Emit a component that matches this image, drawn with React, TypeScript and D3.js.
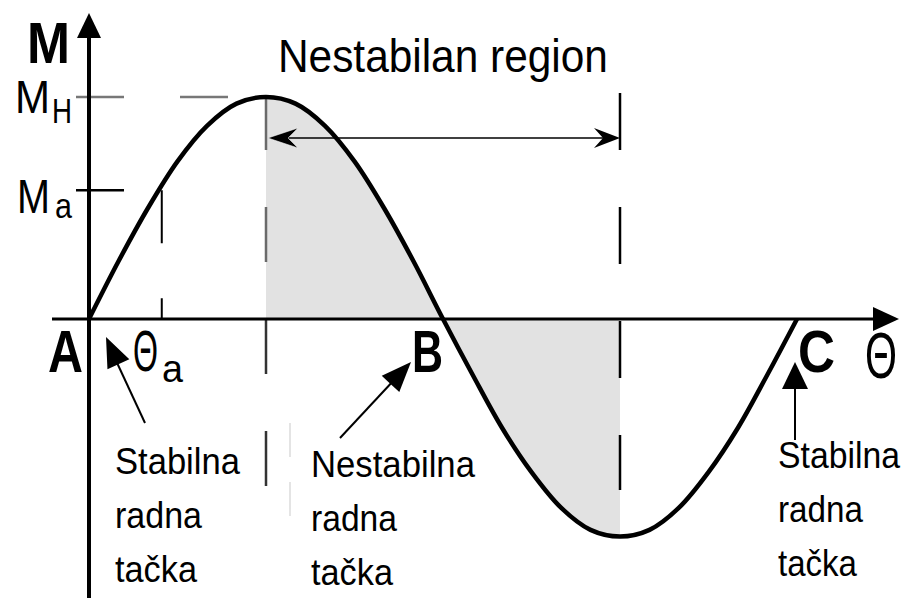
import React from 'react';
import * as d3 from 'd3';

// Curve samples (rotor angle in degrees, normalised torque)
const thetaDeg = [0, 15, 30, 45, 60, 75, 90, 105, 120, 135, 150, 165, 180, 195, 210, 225, 240, 255, 270, 285, 300, 315, 330, 345, 360];
const torque = [0, 0.26, 0.5, 0.71, 0.87, 0.97, 1, 0.97, 0.87, 0.71, 0.5, 0.26, 0, -0.25, -0.49, -0.69, -0.85, -0.95, -0.98, -0.95, -0.85, -0.69, -0.49, -0.25, 0];

const unstableRange = [90, 270];
const thetaA = 37;
const torqueA = 0.58;
const torqueH = 1;

const pointNames = ['A', 'B', 'C'];
const pointTheta = [0, 180, 360];

const stableLines = ['Stabilna', 'radna', 'tačka'];
const unstableLines = ['Nestabilna', 'radna', 'tačka'];
const regionTitle = 'Nestabilan region';

const W = 905;
const H = 598;
const FAMILY = '"Liberation Sans", Arial, sans-serif';

let ctx: CanvasRenderingContext2D | null = null;
function measure(s: string, size: number, bold: boolean) {
  if (!ctx) ctx = document.createElement('canvas').getContext('2d');
  if (!ctx) return s.length * size * 0.55;
  ctx.font = `${bold ? 'bold ' : ''}${size}px ${FAMILY}`;
  return ctx.measureText(s).width;
}

function T({ x, y, size, w, bold = false, children }: { x: number; y: number; size: number; w: number; bold?: boolean; children: string }) {
  const nat = measure(children, size, bold);
  const sx = nat > 0 ? w / nat : 1;
  return (
    <text transform={`translate(${x},${y}) scale(${sx},1)`} fontSize={size} fontFamily={FAMILY}
      fontWeight={bold ? 'bold' : 'normal'} fill="#000">{children}</text>
  );
}

function head(tx: number, ty: number, fx: number, fy: number, len: number, hw: number, notch = 0) {
  const dx = tx - fx, dy = ty - fy;
  const d = Math.hypot(dx, dy);
  const ux = dx / d, uy = dy / d;
  const nx = -uy, ny = ux;
  const bx = tx - ux * len, by = ty - uy * len;
  const mx = tx - ux * (len - notch), my = ty - uy * (len - notch);
  return `${tx},${ty} ${bx + nx * hw},${by + ny * hw} ${mx},${my} ${bx - nx * hw},${by - ny * hw}`;
}

export default function App() {
  const x = d3.scaleLinear().domain([0, 360]).range([89, 797]);
  const y = d3.scaleLinear().domain([-1, 1]).range([541, 97]);
  const pts = thetaDeg.map((t, i) => [t, torque[i]] as [number, number]);

  const line = d3.line<[number, number]>().x(d => x(d[0])).y(d => y(d[1])).curve(d3.curveCatmullRom);
  const area = d3.area<[number, number]>().x(d => x(d[0])).y0(y(0)).y1(d => y(d[1])).curve(d3.curveCatmullRom);
  const shaded = pts.filter(p => p[0] >= unstableRange[0] && p[0] <= unstableRange[1]);

  const x0 = x(0), y0 = y(0);
  const xU1 = x(unstableRange[0]), xU2 = x(unstableRange[1]);
  const arrowY = 138;

  const labelBlock = (lines: string[], lx: number, firstBase: number, widths: number[], step: number) =>
    lines.map((s, i) => (
      <T key={i} x={lx} y={firstBase + i * step} size={37} w={widths[i]}>{s}</T>
    ));

  const nameX = [x(pointTheta[0]) - 41, x(pointTheta[1]) - 31, x(pointTheta[2]) + 1];
  const nameW = [35, 31, 37];

  return (
    <svg width={W} height={H} style={{ position: 'absolute', left: 0, top: 0, background: '#fff' }}>
      <rect x={0} y={0} width={W} height={H} fill="#fff" />
      {/* shaded unstable region */}
      <path d={area(shaded) || ''} fill="#e2e2e2" />

      {/* faint artifact line */}
      <line x1={290} x2={290} y1={423} y2={522} stroke="#dcdcdc" strokeWidth={1.5} strokeDasharray="34 25" />

      {/* M_H dashed level */}
      <line x1={76} x2={240} y1={y(torqueH)} y2={y(torqueH)} stroke="#777" strokeWidth={2.5} strokeDasharray="48 56" />
      {/* vertical dashed at 90 deg */}
      <line x1={xU1} x2={xU1} y1={95} y2={y0} stroke="#6a6a6a" strokeWidth={2.5} strokeDasharray="55 57" />
      <line x1={xU1} x2={xU1} y1={y0} y2={490} stroke="#333" strokeWidth={2.5} strokeDasharray="55 57" strokeDashoffset={-112} />
      {/* vertical dashed at 270 deg */}
      <line x1={xU2} x2={xU2} y1={93} y2={490} stroke="#000" strokeWidth={2.5} strokeDasharray="57 57" />
      {/* M_a tick */}
      <line x1={76} x2={124} y1={y(torqueA)} y2={y(torqueA)} stroke="#000" strokeWidth={2.5} />
      {/* theta_a line */}
      <line x1={x(thetaA)} x2={x(thetaA)} y1={y(torqueA)} y2={y0} stroke="#000" strokeWidth={2} strokeDasharray="53 55" />

      {/* axes */}
      <line x1={52} x2={880} y1={y0} y2={y0} stroke="#000" strokeWidth={3} />
      <polygon points={head(899, y0, 52, y0, 26, 12)} fill="#000" />
      <line x1={x0} x2={x0} y1={H} y2={30} stroke="#000" strokeWidth={4} />
      <polygon points={head(x0, 13, x0, H, 25, 12)} fill="#000" />

      {/* curve */}
      <path d={line(pts) || ''} fill="none" stroke="#000" strokeWidth={4.5} strokeLinejoin="round" />

      {/* unstable region double arrow */}
      <line x1={xU1 + 10} x2={xU2 - 10} y1={arrowY} y2={arrowY} stroke="#000" strokeWidth={1.5} />
      <polygon points={head(xU1 + 2, arrowY, xU2, arrowY, 30, 10, 10)} fill="#000" stroke="#fff" strokeWidth={0.5} />
      <polygon points={head(xU2, arrowY, xU1, arrowY, 26, 10, 9)} fill="#000" />

      <T x={278} y={72} size={46} w={330}>{regionTitle}</T>

      {/* axis labels */}
      <T x={27} y={63} size={58} w={43} bold>M</T>
      <T x={15} y={113} size={46} w={35}>M</T>
      <T x={52} y={123} size={36} w={20}>H</T>
      <T x={17} y={213} size={48} w={33}>M</T>
      <T x={55} y={218} size={35} w={17}>a</T>
      <T x={133} y={371} size={58} w={25}>Θ</T>
      <T x={162} y={382} size={38} w={21}>a</T>
      <T x={865} y={378} size={64} w={32}>Θ</T>

      {/* point names */}
      {pointNames.map((n, i) => (
        <T key={n} x={nameX[i]} y={y0 + 53} size={60} w={nameW[i]} bold>{n}</T>
      ))}

      {/* annotation arrows */}
      <line x1={145} y1={423} x2={112} y2={352} stroke="#000" strokeWidth={2} />
      <polygon points={head(106, 337, 145, 423, 30, 12)} fill="#000" />
      <line x1={340} y1={438} x2={395} y2={379} stroke="#000" strokeWidth={2} />
      <polygon points={head(411, 362, 340, 438, 30, 12)} fill="#000" />
      <line x1={795} y1={440} x2={795} y2={385} stroke="#000" strokeWidth={2} />
      <polygon points={head(795, 362, 795, 440, 27, 13)} fill="#000" />

      {/* annotation texts */}
      {labelBlock(stableLines, 115, 474, [125, 87, 82], 54)}
      {labelBlock(unstableLines, 311, 477, [164, 86, 82], 54)}
      {labelBlock(stableLines, 778, 468, [122, 85, 79], 54)}
    </svg>
  );
}
